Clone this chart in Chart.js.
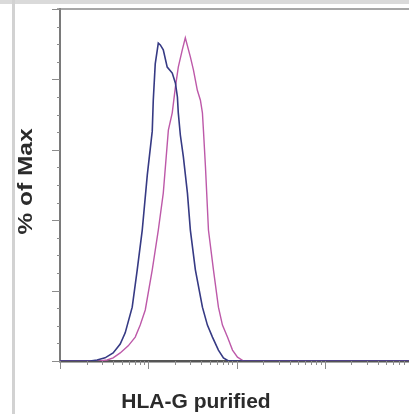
<!DOCTYPE html>
<html>
<head>
<meta charset="utf-8">
<script src="https://cdn.jsdelivr.net/npm/chart.js@4.4.1/dist/chart.umd.min.js"></script>
<style>
  html, body { margin: 0; padding: 0; overflow: hidden; background: #fff; }
  #topband { position: absolute; left: 0; top: 0; width: 409px; height: 4px; background: #dadada; }
  #sidebar { position: absolute; left: 12px; top: 0; width: 3px; height: 414px; background: #d2d2d2; }
  #wrap { position: absolute; left: 0; top: 0; width: 413px; height: 414px; }
</style>
</head>
<body>
<div id="topband"></div>
<div id="sidebar"></div>
<div id="wrap"><canvas id="histo"></canvas></div>
<script>
// Fluorescence intensity (log axis) and % of Max
const controlX = [1, 2.19, 2.63, 3.24, 4.0, 4.81, 5.48, 6.58, 7.5, 8.55, 9.75, 11.1, 11.4, 12.0, 13.0, 13.7, 14.8, 16.4, 18.7, 20.3, 21.4, 21.9, 23.1, 25.0, 27.8, 30.0, 34.2, 41.1, 46.8, 53.4, 62.4, 71.1, 81.1, 10000];
const controlY = [0, 0, 0.3, 0.9, 2.3, 4.8, 8.0, 15.3, 25.9, 37.2, 52.8, 65.3, 74.1, 84.4, 90.3, 89.8, 88.4, 83.5, 81.8, 79.0, 75.0, 70.5, 64.2, 58.0, 47.7, 37.2, 25.9, 15.3, 10.2, 6.8, 3.1, 0.9, 0, 0];

const stainedX = [1, 2.85, 3.42, 4.0, 4.81, 5.93, 7.12, 8.11, 9.25, 11.1, 13.0, 14.8, 16.9, 18.7, 20.3, 21.9, 24.3, 26.3, 30.0, 32.5, 36.0, 39.0, 41.1, 42.2, 44.5, 48.1, 54.8, 62.4, 69.3, 79.0, 90.1, 102.6, 120.2, 10000];
const stainedY = [0, 0, 0.3, 0.9, 2.3, 4.3, 6.8, 10.2, 14.5, 25.9, 37.2, 47.7, 65.6, 70.5, 77.8, 83.5, 88.4, 91.8, 86.4, 82.7, 76.9, 74.1, 70.5, 65.6, 55.1, 37.2, 25.9, 15.3, 10.2, 6.8, 3.1, 1.1, 0, 0];

const xDecades = [1, 10, 100, 1000, 10000];
const xMinor = [2, 3, 4, 5, 6, 7, 8, 9];
const yMajor = [0, 20, 40, 60, 80, 100];
const yMinor = [5, 10, 15, 25, 30, 35, 45, 50, 55, 65, 70, 75, 85, 90, 95];

const xTitle = 'HLA-G purified';
const yTitle = '% of Max';

const toPoints = (xs, ys) => xs.map((x, i) => ({ x, y: ys[i] }));

// tick marks + titles, drawn against the chart's own scales
const flowAxes = {
  id: 'flowAxes',
  afterDraw(chart) {
    const { ctx, chartArea, scales } = chart;
    const xs = scales.x, ys = scales.y;
    ctx.save();

    // top frame line
    ctx.strokeStyle = '#8a8a8a';
    ctx.lineWidth = 1.5;
    ctx.beginPath();
    ctx.moveTo(chartArea.left - 3, chartArea.top);
    ctx.lineTo(chartArea.right, chartArea.top);
    ctx.stroke();

    // x ticks (log decades + minors)
    ctx.strokeStyle = '#8c8c8c';
    ctx.lineWidth = 1;
    const b = chartArea.bottom;
    xDecades.forEach((d, i) => {
      const px = Math.round(xs.getPixelForValue(d)) + 0.5;
      ctx.beginPath(); ctx.moveTo(px, b); ctx.lineTo(px, b + 8); ctx.stroke();
      if (i < xDecades.length - 1) {
        xMinor.forEach(m => {
          const mx = Math.round(xs.getPixelForValue(d * m)) + 0.5;
          ctx.beginPath(); ctx.moveTo(mx, b); ctx.lineTo(mx, b + 4); ctx.stroke();
        });
      }
    });

    // y ticks
    const l = chartArea.left;
    yMajor.forEach(v => {
      const py = Math.round(ys.getPixelForValue(v)) + 0.5;
      ctx.beginPath(); ctx.moveTo(l - 8, py); ctx.lineTo(l, py); ctx.stroke();
    });
    yMinor.forEach(v => {
      const py = Math.round(ys.getPixelForValue(v)) + 0.5;
      ctx.beginPath(); ctx.moveTo(l - 3, py); ctx.lineTo(l, py); ctx.stroke();
    });

    // titles
    ctx.fillStyle = '#2b2b2b';
    ctx.font = 'bold 21px "Liberation Sans", Arial, sans-serif';
    ctx.textAlign = 'center';
    ctx.textBaseline = 'alphabetic';
    ctx.fillText(xTitle, 196, 408);

    ctx.save();
    ctx.translate(32, 181.5);
    ctx.rotate(-Math.PI / 2);
    const w = ctx.measureText(yTitle).width;
    ctx.scale(106 / w, 1);
    ctx.fillText(yTitle, 0, 0);
    ctx.restore();

    ctx.restore();
  }
};

new Chart(document.getElementById('histo'), {
  type: 'line',
  data: {
    datasets: [
      {
        label: 'Isotype',
        data: toPoints(controlX, controlY),
        borderColor: '#363a84',
        borderWidth: 1.6,
        pointRadius: 0,
        tension: 0,
        fill: false,
      },
      {
        label: 'HLA-G',
        data: toPoints(stainedX, stainedY),
        borderColor: '#bd59a9',
        borderWidth: 1.4,
        pointRadius: 0,
        tension: 0,
        fill: false,
      },
    ],
  },
  options: {
    responsive: true,
    maintainAspectRatio: false,
    animation: false,
    layout: { padding: { top: 9, right: 0, left: 0, bottom: 0 } },
    plugins: { legend: { display: false }, tooltip: { enabled: false } },
    scales: {
      x: {
        type: 'logarithmic',
        min: 1,
        max: 10000,
        ticks: { display: false },
        grid: { display: false },
        border: { color: '#555', width: 2.5 },
        afterFit: s => { s.height = 53; },
      },
      y: {
        min: 0,
        max: 100,
        ticks: { display: false },
        grid: { display: false },
        border: { color: '#7a7a7a', width: 2 },
        afterFit: s => { s.width = 60; },
      },
    },
  },
  plugins: [flowAxes],
});
</script>
</body>
</html>
